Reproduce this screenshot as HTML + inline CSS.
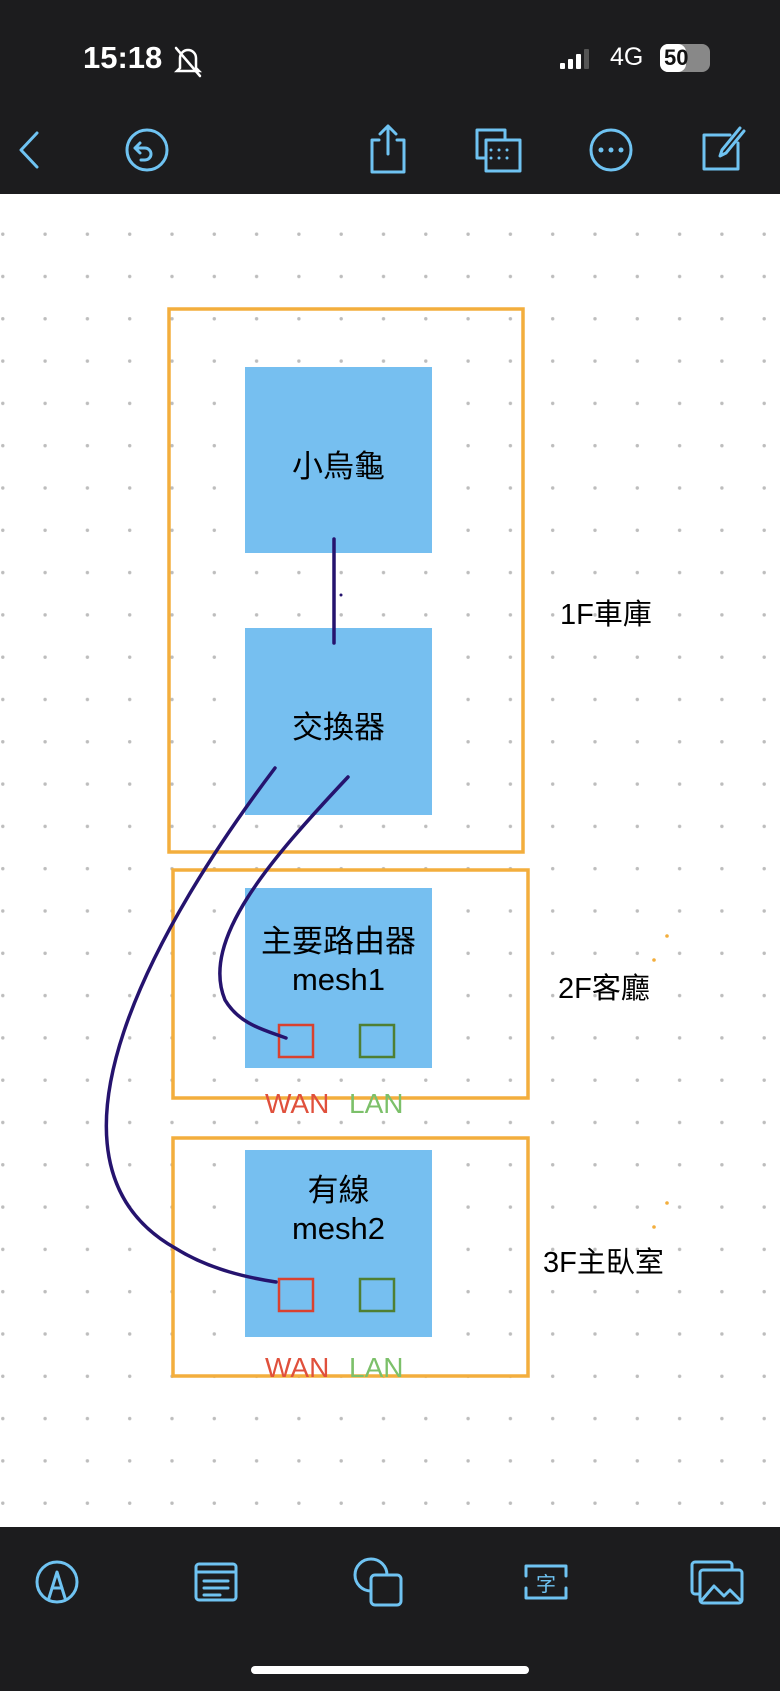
<!DOCTYPE html>
<html><head><meta charset="utf-8"><style>
html,body{margin:0;padding:0;}
body{width:780px;height:1691px;position:relative;overflow:hidden;background:#fff;font-family:"Liberation Sans","Noto Sans CJK TC",sans-serif;}
.t{position:absolute;white-space:nowrap;}
</style></head><body>
<svg width="780" height="1691" style="position:absolute;left:0;top:0">
<defs><pattern id="d" x="-18.35" y="1.55" width="42.3" height="42.3" patternUnits="userSpaceOnUse"><circle cx="21.15" cy="21.15" r="1.7" fill="#bdbdbd"/></pattern></defs>
<rect x="0" y="194" width="780" height="1333" fill="url(#d)"/>
<rect x="0" y="0" width="780" height="194" fill="#1c1c1e"/>
<rect x="0" y="1527" width="780" height="164" fill="#1c1c1e"/>
<rect x="251" y="1666" width="278" height="8" rx="4" fill="#fff"/>
<g fill="none" stroke="#f3ae3d" stroke-width="3.5">
<rect x="169" y="309" width="354" height="543"/>
<rect x="173" y="870" width="355" height="228"/>
<rect x="173" y="1138" width="355" height="238"/>
</g>
<g fill="#76bff0">
<rect x="245" y="367" width="187" height="186"/>
<rect x="245" y="628" width="187" height="187"/>
<rect x="245" y="888" width="187" height="180"/>
<rect x="245" y="1150" width="187" height="187"/>
</g>
<g fill="none" stroke-width="2.5">
<rect x="279" y="1025" width="34" height="32" stroke="#d9412f"/>
<rect x="360" y="1025" width="34" height="32" stroke="#4f7f32"/>
<rect x="279" y="1279" width="34" height="32" stroke="#d9412f"/>
<rect x="360" y="1279" width="34" height="32" stroke="#4f7f32"/>
</g>
<g fill="none" stroke="#25136e" stroke-width="3.5" stroke-linecap="round">
<line x1="334" y1="539" x2="334" y2="643"/>
<path d="M275,768 C160,920 20,1160 175,1248 C210,1270 250,1278 276,1282"/>
<path d="M348,777 C270,860 200,940 225,1000 C240,1025 265,1030 286,1038"/>
</g>
<circle cx="341" cy="595" r="1.5" fill="#25136e"/>
<circle cx="667" cy="936" r="1.8" fill="#f3ae3d"/><circle cx="654" cy="960" r="1.8" fill="#f3ae3d"/>
<circle cx="667" cy="1203" r="1.8" fill="#f3ae3d"/><circle cx="654" cy="1227" r="1.8" fill="#f3ae3d"/>
<g fill="none" stroke="#6fc3f2" stroke-width="3" stroke-linecap="round" stroke-linejoin="round">
<polyline points="37,133 21,150 37,167"/>
<circle cx="147" cy="150" r="20"/><path d="M140,143 l-5,5 5,5 M135,148 h10 a6,6 0 0 1 0,12 h-4"/>
<path d="M379,140 h-7 v32 h32 v-32 h-7 M388,154 v-28 M380,134 l8,-8 8,8"/>
<rect x="477" y="130" width="28" height="28"/><rect x="486" y="140" width="34" height="31" fill="#1c1c1e"/>
<circle cx="611" cy="150" r="20"/>
<path d="M730,135 h-26 v34 h34 v-26 M740,128 l-18,22 -2,6 6,-3 18,-22"/>
<circle cx="57" cy="1582" r="20"/><path d="M49,1598 l8,-26 8,26 M52,1588 h10"/>
<rect x="196" y="1564" width="40" height="36" rx="3"/><path d="M196,1572 h40 M204,1581 h24 M204,1588 h24 M204,1595 h16"/>
<circle cx="371" cy="1575" r="16"/><rect x="371" y="1575" width="30" height="30" rx="4" fill="#1c1c1e"/>
<path d="M526,1566 h40 v10 M566,1588 v10 h-40 v-10 M526,1576 v-10"/>
<rect x="692" y="1562" width="40" height="32" rx="3"/><rect x="700" y="1570" width="42" height="33" rx="3" fill="#1c1c1e"/><path d="M702,1600 l12,-14 10,10 6,-6 10,10"/>
</g>
<g fill="#6fc3f2"><circle cx="601" cy="150" r="2.5"/><circle cx="611" cy="150" r="2.5"/><circle cx="621" cy="150" r="2.5"/></g>
<g fill="#6fc3f2"><circle cx="491" cy="150" r="1.5"/><circle cx="499" cy="150" r="1.5"/><circle cx="507" cy="150" r="1.5"/><circle cx="491" cy="158" r="1.5"/><circle cx="499" cy="158" r="1.5"/><circle cx="507" cy="158" r="1.5"/></g>
<g fill="#fff"><rect x="560" y="63" width="5" height="6" rx="1"/><rect x="568" y="59" width="5" height="10" rx="1"/><rect x="576" y="54" width="5" height="15" rx="1"/></g>
<rect x="584" y="49" width="5" height="20" rx="1" fill="#555"/>
<rect x="660" y="44" width="50" height="28" rx="8" fill="#888"/><rect x="660" y="44" width="26" height="28" rx="8" fill="#fff"/>
<g fill="none" stroke="#fff" stroke-width="2.5" stroke-linecap="round"><path d="M180,68 v-10 a8,8 0 0 1 16,0 v10 l3,3 h-22 z"/><line x1="176" y1="48" x2="200" y2="76"/></g>
</svg>
<div class="t" style="left:83px;top:40px;font-size:31px;font-weight:bold;color:#fff">15:18</div>
<div class="t" style="left:610px;top:43px;font-size:25px;color:#fff">4G</div>
<div class="t" style="left:664px;top:45px;font-size:22px;font-weight:bold;color:#111">50</div>
<div class="t" style="left:245px;width:187px;text-align:center;top:441px;font-size:31px;">小烏龜</div>
<div class="t" style="left:245px;width:187px;text-align:center;top:702px;font-size:31px;">交換器</div>
<div class="t" style="left:245px;width:187px;text-align:center;top:923px;font-size:31px;line-height:38px">主要路由器<br>mesh1</div>
<div class="t" style="left:245px;width:187px;text-align:center;top:1172px;font-size:31px;line-height:38px">有線<br>mesh2</div>
<div class="t" style="left:265px;top:1088px;font-size:28px;color:#e0503c">WAN</div>
<div class="t" style="left:349px;top:1088px;font-size:28px;color:#7cc06a">LAN</div>
<div class="t" style="left:265px;top:1352px;font-size:28px;color:#e0503c">WAN</div>
<div class="t" style="left:349px;top:1352px;font-size:28px;color:#7cc06a">LAN</div>
<div class="t" style="left:560px;top:591px;font-size:29px;">1F車庫</div>
<div class="t" style="left:558px;top:965px;font-size:29px;">2F客廳</div>
<div class="t" style="left:543px;top:1239px;font-size:29px;">3F主臥室</div>
<div class="t" style="left:536px;top:1568px;font-size:20px;color:#6fc3f2">字</div>
</body></html>
